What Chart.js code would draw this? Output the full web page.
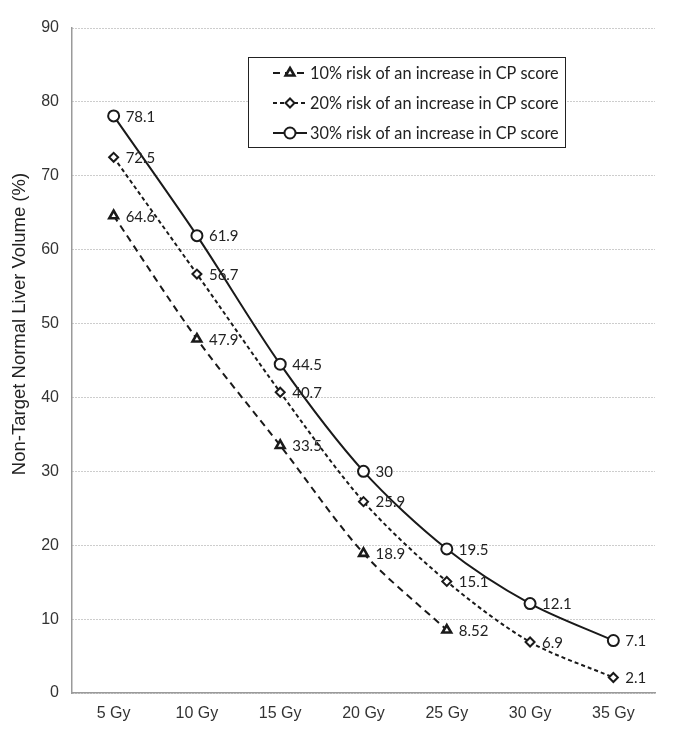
<!DOCTYPE html>
<html>
<head>
<meta charset="utf-8">
<script src="https://cdn.jsdelivr.net/npm/chart.js@4.4.1/dist/chart.umd.min.js"></script>
<style>
  html, body { margin: 0; padding: 0; background: #fff; }
  #wrap { position: relative; width: 685px; height: 746px; }
</style>
</head>
<body>
<div id="wrap"><canvas id="chart"></canvas></div>
<script>
// ── DATA ──
const doses = ['5 Gy', '10 Gy', '15 Gy', '20 Gy', '25 Gy', '30 Gy', '35 Gy'];
const risk10 = [64.6, 47.9, 33.5, 18.9, 8.52, null, null];
const risk20 = [72.5, 56.7, 40.7, 25.9, 15.1, 6.9, 2.1];
const risk30 = [78.1, 61.9, 44.5, 30, 19.5, 12.1, 7.1];
const yTitle = 'Non-Target Normal Liver Volume (%)';

const ARIAL = "'Liberation Sans', Arial, sans-serif";
const LABEL_FONT = "Lato, 'Open Sans', sans-serif";
const INK = '#1a1a1a';
const AXIS = '#9a9a9a';

// ── VALUE LABELS (right of each point) ──
const valueLabels = {
  id: 'valueLabels',
  afterDatasetsDraw(chart) {
    const ctx = chart.ctx;
    ctx.save();
    ctx.font = '15px ' + LABEL_FONT;
    ctx.fillStyle = '#222';
    ctx.textAlign = 'left';
    ctx.textBaseline = 'middle';
    chart.data.datasets.forEach((ds, i) => {
      const meta = chart.getDatasetMeta(i);
      meta.data.forEach((pt, j) => {
        const v = ds.data[j];
        if (v == null) return;
        ctx.fillText(String(v), pt.x + 12, pt.y + 1);
      });
    });
    ctx.restore();
  }
};

// ── Y TITLE (sits a little above the plot centre, like the original) ──
const sideTitle = {
  id: 'sideTitle',
  afterDraw(chart) {
    const ctx = chart.ctx;
    ctx.save();
    ctx.translate(20, 324);
    ctx.rotate(-Math.PI / 2);
    ctx.font = '18.5px ' + ARIAL;
    ctx.fillStyle = '#222';
    ctx.textAlign = 'center';
    ctx.textBaseline = 'middle';
    ctx.fillText(yTitle, 0, 0);
    ctx.restore();
  }
};

// ── BOXED LEGEND INSIDE PLOT ──
const boxLegend = {
  id: 'boxLegend',
  afterDraw(chart) {
    const ctx = chart.ctx;
    const x0 = 248, y0 = 57, w = 317, h = 90, row = 30;
    ctx.save();
    ctx.fillStyle = '#fff';
    ctx.fillRect(x0, y0, w, h);
    ctx.strokeStyle = '#222';
    ctx.lineWidth = 1;
    ctx.strokeRect(x0 + 0.5, y0 + 0.5, w, h);
    ctx.textBaseline = 'middle';
    ctx.textAlign = 'left';
    chart.data.datasets.forEach((ds, i) => {
      const y = y0 + 16 + i * row;
      ctx.save();
      ctx.strokeStyle = INK;
      ctx.lineWidth = ds.borderWidth;
      ctx.setLineDash(ds.borderDash || []);
      ctx.beginPath();
      ctx.moveTo(x0 + 25, y);
      ctx.lineTo(x0 + 59, y);
      ctx.stroke();
      ctx.restore();
      ctx.save();
      ctx.fillStyle = '#fff';
      ctx.strokeStyle = INK;
      ctx.lineWidth = ds.pointBorderWidth;
      Chart.helpers.drawPoint(ctx, {
        pointStyle: ds.pointStyle,
        radius: ds.pointRadius,
        borderWidth: ds.pointBorderWidth,
        rotation: 0
      }, x0 + 42, y);
      ctx.restore();
      ctx.font = '16.3px ' + LABEL_FONT;
      ctx.fillStyle = '#222';
      ctx.fillText(ds.label, x0 + 62, y + 1);
    });
    ctx.restore();
  }
};

function series(label, data, dash, style, r, bw) {
  return {
    label, data,
    borderColor: INK,
    borderWidth: 2,
    borderDash: dash,
    tension: 0.3,
    spanGaps: false,
    pointStyle: style,
    pointRadius: r,
    pointHoverRadius: r,
    pointBorderWidth: bw,
    pointBackgroundColor: '#fff',
    pointBorderColor: INK,
    fill: false
  };
}

new Chart(document.getElementById('chart'), {
  type: 'line',
  data: {
    labels: doses,
    datasets: [
      series('10% risk of an increase in CP score', risk10, [7, 5], 'triangle', 5, 2.6),
      series('20% risk of an increase in CP score', risk20, [4, 3], 'rectRot', 4.5, 2),
      series('30% risk of an increase in CP score', risk30, [], 'circle', 5.5, 2)
    ]
  },
  options: {
    responsive: true,
    maintainAspectRatio: false,
    animation: false,
    layout: { padding: { top: 28, right: 30, left: 0, bottom: 0 } },
    plugins: {
      legend: { display: false },
      tooltip: { enabled: false }
    },
    scales: {
      x: {
        offset: true,
        grid: { display: false, drawTicks: false },
        border: { display: true, color: AXIS, width: 1.5 },
        ticks: { color: '#333', font: { family: ARIAL, size: 16 }, padding: 11, maxRotation: 0 },
        afterFit: s => { s.height = 53; }
      },
      y: {
        min: 0,
        max: 90,
        ticks: { stepSize: 10, color: '#333', font: { family: ARIAL, size: 16 }, padding: 13 },
        grid: { color: AXIS, lineWidth: 1, drawTicks: false },
        border: { display: true, color: AXIS, width: 1.5, dash: [1, 2] },
        afterFit: s => { s.width = 72; }
      }
    }
  },
  plugins: [valueLabels, sideTitle, boxLegend]
});
</script>
</body>
</html>
